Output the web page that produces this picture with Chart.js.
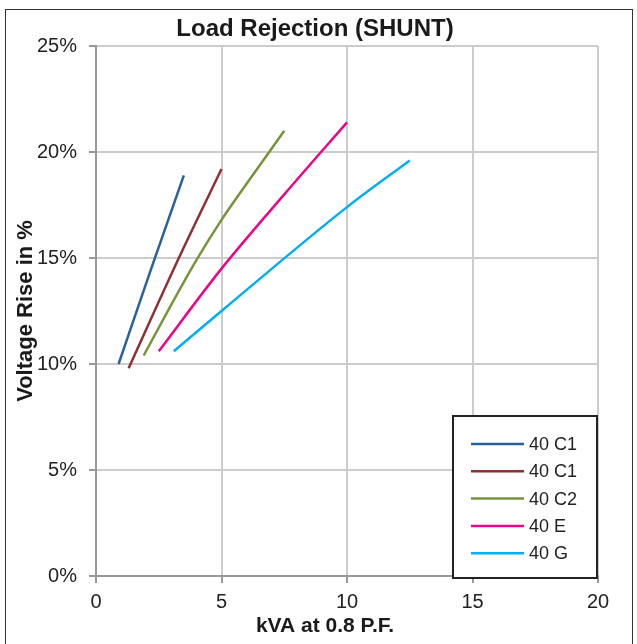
<!DOCTYPE html>
<html>
<head>
<meta charset="utf-8">
<script src="https://cdn.jsdelivr.net/npm/chart.js@4.4.1/dist/chart.umd.min.js"></script>
<style>
  html, body { margin: 0; padding: 0; background: #fff; overflow: hidden; }
  #wrap { position: relative; width: 637px; height: 644px; overflow: hidden; }
  #frame { position: absolute; left: 5px; top: 9px; width: 626px; height: 700px; border: 1px solid #333; pointer-events: none; }
  canvas { display: block; }
</style>
</head>
<body>
<div id="wrap">
  <canvas id="chart" width="637" height="644"></canvas>
  <div id="frame"></div>
</div>
<script>
// chart data
const chartTitle = 'Load Rejection (SHUNT)';
const xTitle = 'kVA at 0.8 P.F.';
const yTitle = 'Voltage Rise in %';
const xTicks = [0, 5, 10, 15, 20];
const yTicks = [0, 5, 10, 15, 20, 25];

const seriesNames = ['40 C1', '40 C1', '40 C2', '40 E', '40 G'];
const seriesColors = ['#2a6199', '#8e3035', '#77933c', '#e8078a', '#00b0f0'];

const c1aKva = [0.9, 2.2, 3.5];
const c1aRise = [10.0, 14.5, 18.9];
const c1bKva = [1.3, 3.3, 5.0];
const c1bRise = [9.8, 15.0, 19.2];
const c2Kva = [1.9, 3.0, 4.0, 5.0, 6.0, 7.5];
const c2Rise = [10.4, 12.8, 14.9, 16.8, 18.5, 21.0];
const eKva = [2.5, 5.0, 7.5, 10.0];
const eRise = [10.6, 14.5, 18.0, 21.4];
const gKva = [3.1, 5.0, 10.0, 12.5];
const gRise = [10.6, 12.5, 17.4, 19.6];

const seriesKva = [c1aKva, c1bKva, c2Kva, eKva, gKva];
const seriesRise = [c1aRise, c1bRise, c2Rise, eRise, gRise];

const FONT = '"Liberation Sans", Arial, sans-serif';

const datasets = seriesNames.map((name, i) => ({
  label: name,
  data: seriesKva[i].map((x, j) => ({ x: x, y: seriesRise[i][j] })),
  borderColor: seriesColors[i],
  backgroundColor: seriesColors[i],
  borderWidth: 2.5,
  pointRadius: 0,
  fill: false,
  cubicInterpolationMode: 'monotone'
}));

// chart title, x axis title and the legend box inside the plot
const extras = {
  id: 'extras',
  afterDraw(chart) {
    const { ctx, chartArea } = chart;
    ctx.save();
    ctx.fillStyle = '#1a1a1a';
    ctx.textAlign = 'center';
    ctx.textBaseline = 'middle';
    ctx.font = 'bold 24px ' + FONT;
    ctx.fillText(chartTitle, 315, 29);
    ctx.font = 'bold 21px ' + FONT;
    ctx.fillText(xTitle, 325, 626);

    const left = chartArea.right - 145;
    const top = chartArea.bottom - 160;
    const right = chartArea.right - 1;
    const bottom = chartArea.bottom + 2;
    ctx.fillStyle = '#fff';
    ctx.fillRect(left, top, right - left, bottom - top);
    ctx.lineWidth = 2;
    ctx.strokeStyle = '#222';
    ctx.strokeRect(left, top, right - left, bottom - top);

    ctx.font = '18px ' + FONT;
    ctx.textAlign = 'left';
    chart.data.datasets.forEach((ds, i) => {
      const y = top + 28 + i * 27.3;
      ctx.strokeStyle = ds.borderColor;
      ctx.lineWidth = 2.5;
      ctx.beginPath();
      ctx.moveTo(left + 18, y);
      ctx.lineTo(left + 71, y);
      ctx.stroke();
      ctx.fillStyle = '#222';
      ctx.fillText(ds.label, left + 76, y + 1);
    });
    ctx.restore();
  }
};

const ctx = document.getElementById('chart').getContext('2d');
new Chart(ctx, {
  type: 'line',
  data: { datasets: datasets },
  plugins: [extras],
  options: {
    responsive: false,
    animation: false,
    devicePixelRatio: 1,
    layout: { padding: { left: 0, right: 39, top: 46, bottom: 0 } },
    plugins: {
      legend: { display: false },
      tooltip: { enabled: false },
      title: { display: false }
    },
    scales: {
      x: {
        type: 'linear',
        min: xTicks[0],
        max: xTicks[xTicks.length - 1],
        afterBuildTicks: s => { s.ticks = xTicks.map(v => ({ value: v })); },
        afterFit: s => { s.height = 68; },
        ticks: { color: '#222', font: { family: FONT, size: 20 }, padding: 7, maxRotation: 0 },
        grid: { color: '#cccccc', lineWidth: 2, tickLength: 7, tickColor: '#999', tickWidth: 2 },
        border: { color: '#999', width: 2 }
      },
      y: {
        min: yTicks[0],
        max: yTicks[yTicks.length - 1],
        afterBuildTicks: s => { s.ticks = yTicks.map(v => ({ value: v })); },
        afterFit: s => { s.width = 96; },
        ticks: { color: '#222', font: { family: FONT, size: 20 }, padding: 12, callback: v => v + '%' },
        grid: { color: '#cccccc', lineWidth: 2, tickLength: 7, tickColor: '#999', tickWidth: 2 },
        border: { color: '#999', width: 2 },
        title: {
          display: true,
          text: yTitle,
          color: '#1a1a1a',
          font: { family: FONT, size: 22, weight: 'bold' },
          padding: { top: 13 }
        }
      }
    }
  }
});
</script>
</body>
</html>
